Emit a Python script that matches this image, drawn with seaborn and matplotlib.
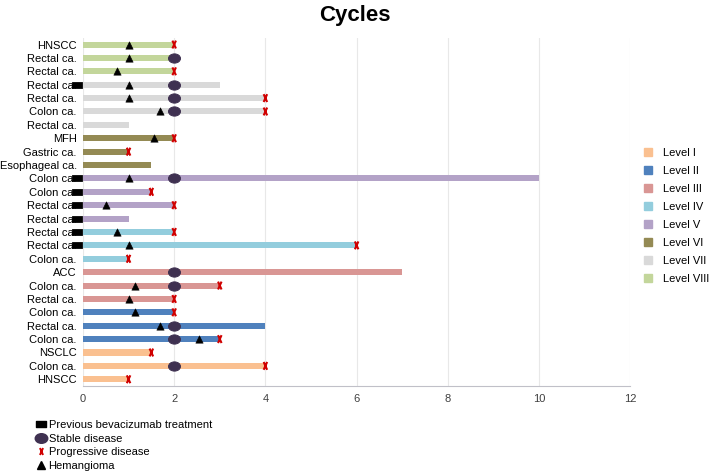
import numpy as np
import pandas as pd
import matplotlib
matplotlib.use('Agg')
import matplotlib.pyplot as plt
from matplotlib.path import Path
from matplotlib.lines import Line2D
import seaborn as sns

# rows from top to bottom
labels = ['HNSCC', 'Rectal ca.', 'Rectal ca.', 'Rectal ca.', 'Rectal ca.', 'Colon ca.',
          'Rectal ca.', 'MFH', 'Gastric ca.', 'Esophageal ca.', 'Colon ca.', 'Colon ca.',
          'Rectal ca.', 'Rectal ca.', 'Rectal ca.', 'Rectal ca.', 'Colon ca.', 'ACC',
          'Colon ca.', 'Rectal ca.', 'Colon ca.', 'Rectal ca.', 'Colon ca.', 'NSCLC',
          'Colon ca.', 'HNSCC']
levels = ['Level VIII'] * 3 + ['Level VII'] * 4 + ['Level VI'] * 3 + ['Level V'] * 4 + \
         ['Level IV'] * 3 + ['Level III'] * 3 + ['Level II'] * 3 + ['Level I'] * 3
cycles = [2, 2, 2, 3, 4, 4, 1, 2, 1, 1.5, 10, 1.5, 2, 1, 2, 6, 1, 7, 3, 2, 2, 4, 3, 1.5, 4, 1]

prev_bev_rows = [3, 10, 11, 12, 13, 14, 15]
stable_rows = [1, 3, 4, 5, 10, 17, 18, 21, 22, 24]
stable_x = [2, 2, 2, 2, 2, 2, 2, 2, 2, 2]
progress_rows = [0, 2, 4, 5, 7, 8, 11, 12, 14, 15, 16, 18, 19, 20, 22, 23, 24, 25]
progress_x = [2, 2, 4, 4, 2, 1, 1.5, 2, 2, 6, 1, 3, 2, 2, 3, 1.5, 4, 1]
hemangioma_rows = [0, 1, 2, 3, 4, 5, 7, 10, 12, 14, 15, 18, 19, 20, 21, 22]
hemangioma_x = [1, 1, 0.75, 1, 1, 1.7, 1.55, 1, 0.5, 0.75, 1, 1.15, 1.0, 1.15, 1.7, 2.55]

level_order = ['Level I', 'Level II', 'Level III', 'Level IV', 'Level V',
               'Level VI', 'Level VII', 'Level VIII']
level_colors = ['#FAC090', '#4F81BD', '#D99694', '#93CDDD', '#B3A2C7',
                '#948A54', '#D9D9D9', '#C3D69B']
palette = dict(zip(level_order, level_colors))

df = pd.DataFrame({'row': [f'r{i}' for i in range(len(labels))],
                   'cycles': cycles, 'level': levels})

plt.rcParams['font.family'] = ['Liberation Sans', 'DejaVu Sans']

fig = plt.figure(figsize=(7.09, 4.73), dpi=100)
ax = fig.add_axes([0.117, 0.184, 0.772, 0.736])

sns.barplot(data=df, y='row', x='cycles', hue='level', palette=palette, dodge=False,
            orient='h', width=0.45, legend=False, ax=ax, saturation=1)

ellipse = Path.unit_circle().transformed(matplotlib.transforms.Affine2D().scale(1.3, 1.0))
xmark = Path([(-0.45, -1), (0.45, 1), (-0.45, 1), (0.45, -1)],
             [Path.MOVETO, Path.LINETO, Path.MOVETO, Path.LINETO])
rect = Path([(-1, -0.6), (1, -0.6), (1, 0.6), (-1, 0.6), (-1, -0.6)],
            [Path.MOVETO, Path.LINETO, Path.LINETO, Path.LINETO, Path.CLOSEPOLY])

sns.scatterplot(x=[-0.12] * len(prev_bev_rows), y=prev_bev_rows, marker=rect, s=50,
                color='black', edgecolor='black', ax=ax, clip_on=False, zorder=4)
sns.scatterplot(x=hemangioma_x, y=hemangioma_rows, marker='^', s=28,
                color='black', edgecolor='black', linewidth=0.4, ax=ax, zorder=4)
sns.scatterplot(x=stable_x, y=stable_rows, marker=ellipse, s=75,
                color='#3F3151', edgecolor='#3F3151', ax=ax, zorder=5)
ax.scatter(progress_x, progress_rows, marker=xmark, s=32, facecolors='none',
           edgecolors='#D00000', linewidths=1.5, zorder=6)

ax.set_xlim(0, 12)
ax.set_ylim(25.5, -0.5)
ax.set_xticks(np.arange(0, 13, 2))
ax.set_yticks(range(len(labels)))
ax.set_yticklabels(labels, fontsize=8, color='black')
ax.tick_params(axis='x', labelsize=8, colors='#404040', length=0, pad=6)
ax.tick_params(axis='y', length=0, pad=4.5)
ax.set_xlabel('')
ax.set_ylabel('')
ax.grid(axis='x', color='#E8E8E8', linewidth=0.8)
ax.set_axisbelow(True)
for side in ['top', 'right', 'left']:
    ax.spines[side].set_visible(False)
ax.spines['bottom'].set_color('#C0C0C8')

fig.suptitle('Cycles', fontsize=16, fontweight='bold', y=0.99)

level_handles = [Line2D([], [], marker='s', linestyle='none', markersize=6,
                        markerfacecolor=c, markeredgecolor=c, label=l)
                 for l, c in zip(level_order, level_colors)]
fig.legend(handles=level_handles, loc='upper left', bbox_to_anchor=(0.902, 0.697),
           frameon=False, fontsize=8, labelspacing=0.72, handlelength=0.8,
           handletextpad=0.9, borderaxespad=0)

marker_handles = [
    Line2D([], [], marker=rect, linestyle='none', markersize=7, color='black',
           label='Previous bevacizumab treatment'),
    Line2D([], [], marker=ellipse, linestyle='none', markersize=9, color='#3F3151',
           label='Stable disease'),
    Line2D([], [], marker=xmark, linestyle='none', markersize=5, markerfacecolor='none',
           markeredgecolor='#D00000', markeredgewidth=1.4, label='Progressive disease'),
    Line2D([], [], marker='^', linestyle='none', markersize=5.5, color='black',
           label='Hemangioma'),
]
fig.legend(handles=marker_handles, loc='lower left', bbox_to_anchor=(0.045, -0.005),
           frameon=False, fontsize=8, labelspacing=0.32, handlelength=0.8,
           handletextpad=0.3, borderaxespad=0)

fig.savefig('out.png', dpi=100)
